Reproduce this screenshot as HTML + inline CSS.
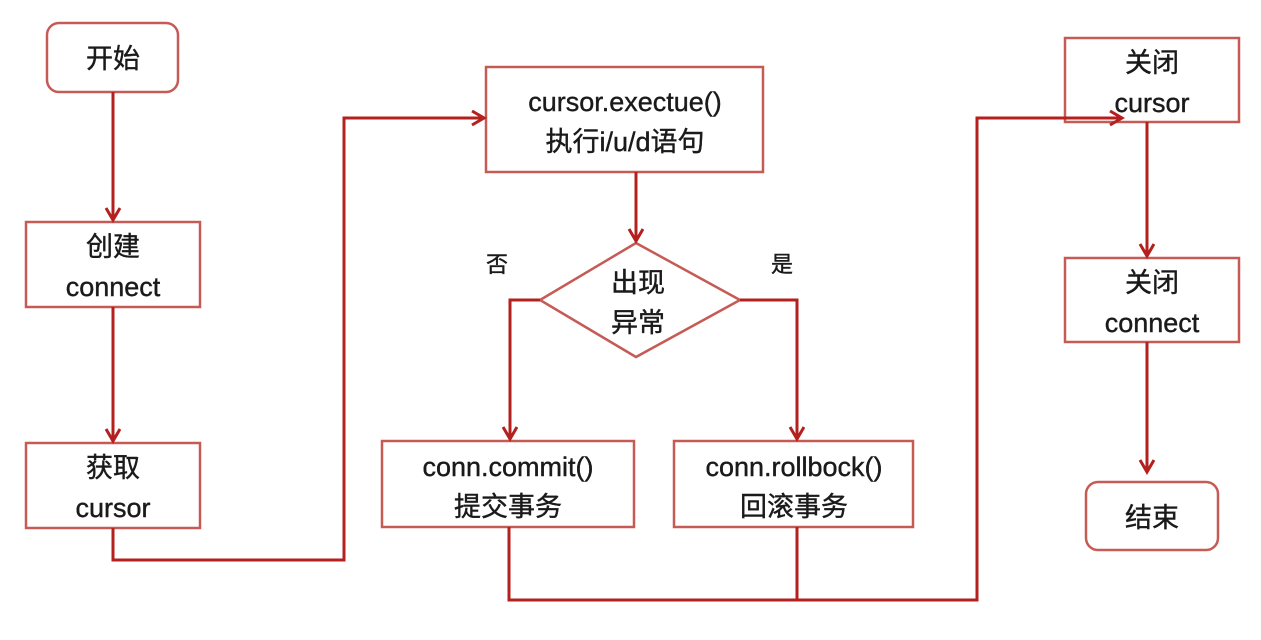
<!DOCTYPE html>
<html><head><meta charset="utf-8"><style>
html,body{margin:0;padding:0;background:#fff;}
svg text{font-family:"Liberation Sans","Noto Sans CJK SC",sans-serif;fill:#1a1a1a;font-size:27px;text-anchor:middle;stroke:#1a1a1a;stroke-width:0.4px;}
</style></head><body>
<svg width="1261" height="635" viewBox="0 0 1261 635" xmlns="http://www.w3.org/2000/svg">
<defs><marker id="a" markerWidth="18" markerHeight="18" refX="14" refY="8" orient="auto" markerUnits="userSpaceOnUse"><path d="M2,1 L14,8 L2,15" fill="none" stroke="#b3201e" stroke-width="3"/></marker></defs>
<g fill="#fff" stroke="#c65a55" stroke-width="2.5">
<rect x="47" y="23" width="131" height="69" rx="12"/>
<rect x="26" y="222" width="174" height="85"/>
<rect x="26" y="443" width="174" height="85"/>
<rect x="486" y="67" width="277" height="105"/>
<polygon points="636,243 740,300 636,357 540,300"/>
<rect x="382" y="441" width="252" height="86"/>
<rect x="674" y="441" width="239" height="86"/>
<rect x="1065" y="38" width="174" height="84"/>
<rect x="1065" y="258" width="174" height="84"/>
<rect x="1086" y="482" width="132" height="68" rx="12"/>
</g>
<g fill="none" stroke="#b3201e" stroke-width="3">
<path d="M113 92 V220" marker-end="url(#a)"/>
<path d="M113 307 V441" marker-end="url(#a)"/>
<path d="M113 528 V560 H344 V118 H484" marker-end="url(#a)"/>
<path d="M636 172 V241" marker-end="url(#a)"/>
<path d="M540 300 H510 V439" marker-end="url(#a)"/>
<path d="M740 300 H797 V439" marker-end="url(#a)"/>
<path d="M509 527 V600 H977 V118 H1122" marker-end="url(#a)"/>
<path d="M797 527 V600"/>
<path d="M1147 122 V256" marker-end="url(#a)"/>
<path d="M1147 342 V472" marker-end="url(#a)"/>
</g>
<text x="113" y="68">开始</text>
<text x="113" y="256">创建</text>
<text x="113" y="296">connect</text>
<text x="113" y="477">获取</text>
<text x="113" y="517">cursor</text>
<text x="625" y="111">cursor.exectue()</text>
<text x="625" y="151">执行i/u/d语句</text>
<text x="638" y="292">出现</text>
<text x="638" y="332">异常</text>
<text x="497" y="272" style="font-size:22px">否</text>
<text x="782" y="272" style="font-size:22px">是</text>
<text x="508" y="476">conn.commit()</text>
<text x="508" y="516">提交事务</text>
<text x="794" y="476">conn.rollbock()</text>
<text x="794" y="516">回滚事务</text>
<text x="1152" y="72">关闭</text>
<text x="1152" y="112">cursor</text>
<text x="1152" y="292">关闭</text>
<text x="1152" y="332">connect</text>
<text x="1152" y="527">结束</text>
</svg>
</body></html>
